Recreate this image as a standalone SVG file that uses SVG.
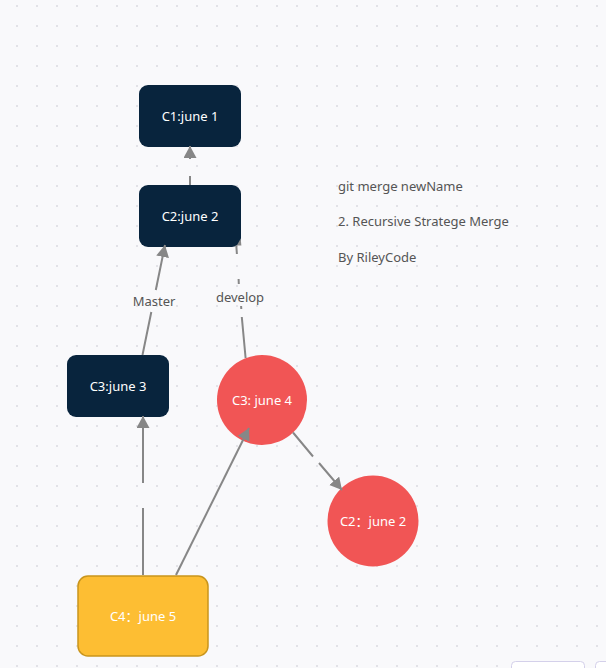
<svg xmlns="http://www.w3.org/2000/svg" width="606" height="668" viewBox="0 0 606 668">
<style>
  .edge { fill: none; stroke: #878787; stroke-width: 2; }
  .dark { fill: #08243d; }
  .red { fill: #f15555; }
  .ntext { font-family: "Noto Sans", "Noto Sans CJK SC", sans-serif; font-size: 13px; fill: #ffffff; text-anchor: middle; }
  .label { font-family: "Noto Sans", sans-serif; font-size: 13px; fill: #555555; text-anchor: middle; }
  .note { font-family: "Noto Sans", sans-serif; font-size: 13px; fill: #555555; }
</style>
<defs>
  <pattern id="dots" patternUnits="userSpaceOnUse" x="7" y="-4" width="20" height="20">
    <circle cx="10" cy="10" r="1.1" fill="#dcdce3"/>
  </pattern>
  <marker id="arrow" markerUnits="userSpaceOnUse" markerWidth="14" markerHeight="14" refX="12" refY="6.5" orient="auto">
    <path d="M0,0 L12,6.5 L0,13 Z" fill="#878787"/>
  </marker>
</defs>
<rect width="606" height="668" fill="#f9f9fb"/>
<rect width="606" height="668" fill="url(#dots)"/>

<g id="c1">
  <rect class="dark" x="139" y="85" width="102" height="62" rx="9"/>
  <text class="ntext" x="190" y="120.5">C1:june 1</text>
</g>
<g id="c2">
  <rect class="dark" x="139" y="185" width="102" height="62" rx="9"/>
  <text class="ntext" x="190" y="220.5">C2:june 2</text>
</g>
<g id="c3-june3">
  <rect class="dark" x="67" y="355" width="102" height="62" rx="9"/>
  <text class="ntext" x="118" y="390.5">C3:june 3</text>
</g>
<g id="c3-june4">
  <circle class="red" cx="262" cy="400" r="45"/>
  <text class="ntext" x="262" y="404.5">C3: june 4</text>
</g>
<g id="c2-june2">
  <circle class="red" cx="373" cy="521" r="45.5"/>
  <text class="ntext" x="373" y="525.5">C2：june 2</text>
</g>
<g id="c4">
  <rect x="78" y="576" width="130" height="80" rx="10" fill="#fdbe33" stroke="#c9951c" stroke-width="1.5"/>
  <text class="ntext" x="143" y="620.5">C4：june 5</text>
</g>

<g id="connectors">
  <path class="edge" d="M190,185 L190,176 M190,159 L190,146" marker-end="url(#arrow)"/>
  <path class="edge" d="M142.5,355 L151.3,312 M155.8,290 L165,245" marker-end="url(#arrow)"/>
  <path class="edge" d="M245.6,358 L241.8,317 M241.3,309 L241.1,306 M238.8,284 L238.6,279 M236.9,254 L236.3,245.5"/>
  <path d="M236.8,245.5 L240.6,238.8 L241.4,245.5 Z" fill="#878787"/>
  <path class="edge" d="M143,575 L143,508 M143,483 L143,416" marker-end="url(#arrow)"/>
  <path class="edge" d="M176,575 L249,428" marker-end="url(#arrow)"/>
  <path class="edge" d="M293,432.5 L313,456.5 M319,463 L342,490" marker-end="url(#arrow)"/>
  <text class="label" x="154" y="306">Master</text>
  <text class="label" x="240" y="302">develop</text>
</g>

<g id="notes">
  <text class="note" x="338" y="190.5">git merge newName</text>
  <text class="note" x="338" y="225.5">2. Recursive Stratege Merge</text>
  <text class="note" x="338" y="261.5">By RileyCode</text>
</g>

<g id="toolbar">
  <rect x="511.5" y="661.5" width="73" height="20" rx="4" fill="#ffffff" stroke="#d4d0ea"/>
  <rect x="595.5" y="661.5" width="30" height="20" rx="4" fill="#ffffff" stroke="#d4d0ea"/>
</g>
</svg>
